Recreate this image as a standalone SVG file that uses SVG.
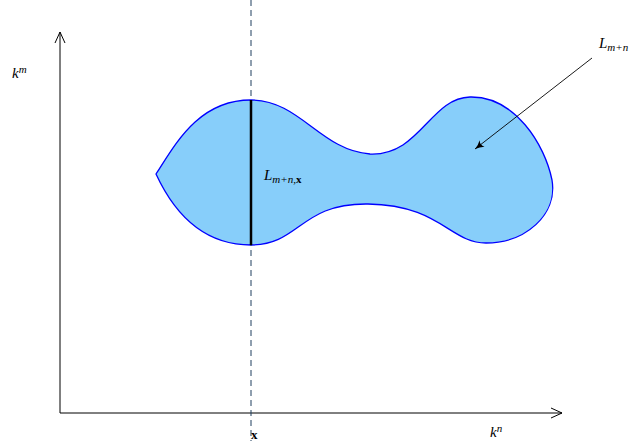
<svg xmlns="http://www.w3.org/2000/svg" width="632" height="441" viewBox="0 0 632 441">
<style>
.ax{stroke:#000;stroke-width:1;fill:none}
.lbl{font-family:"Liberation Serif",serif;font-style:italic;font-size:15px;fill:#000}
.sub{font-size:11px}
</style>
<defs>
<marker id="open" viewBox="-12 -6 14 12" markerWidth="14" markerHeight="12" refX="0" refY="0" orient="auto" markerUnits="userSpaceOnUse">
<path d="M-11,-5 L0,0 L-11,5" fill="none" stroke="#000" stroke-width="1"/>
</marker>
<marker id="latex" viewBox="-10 -5 11 10" markerWidth="11" markerHeight="10" refX="0" refY="0" orient="auto" markerUnits="userSpaceOnUse">
<path d="M-9,-4 Q-5,-1 0,0 Q-5,1 -9,4 Q-6,0 -9,-4Z" fill="#000"/>
</marker>
</defs>
<g id="region">
<path d="M156,174 C175,145 198,100 251,100 C300,100 320,150 370,154 C420,156 430,98 470,97 C515,96 545,145 552,180 C558,215 525,243 486,243 C450,243 440,205 368,204 C300,203 300,245 251,245 C205,245 175,215 156,174Z" fill="#87cefa" stroke="#0000ff" stroke-width="1.3"/>
</g>
<g id="connectors">
<line class="ax" x1="60" y1="413" x2="60" y2="32" marker-end="url(#open)"/>
<line class="ax" x1="60" y1="413" x2="562" y2="413" marker-end="url(#open)"/>
<line x1="251" y1="0" x2="251" y2="441" stroke="#1f3f5f" stroke-width="1" stroke-dasharray="6,4"/>
<line x1="251" y1="100" x2="251" y2="245" stroke="#000" stroke-width="2.5"/>
<line x1="592" y1="58" x2="475" y2="149" stroke="#000" stroke-width="0.9" marker-end="url(#latex)"/>
</g>
<g id="labels">
<text class="lbl" x="12" y="78">k<tspan class="sub" dy="-5">m</tspan></text>
<text class="lbl" x="264" y="180">L<tspan class="sub" dy="3">m+n,</tspan><tspan class="sub" font-style="normal" font-weight="bold">x</tspan></text>
<text class="lbl" x="599" y="48">L<tspan class="sub" dy="3">m+n</tspan></text>
<text x="251" y="439" font-family="Liberation Serif,serif" font-weight="bold" font-size="13">x</text>
<text class="lbl" x="490" y="437">k<tspan class="sub" dy="-5">n</tspan></text>
</g>
</svg>
